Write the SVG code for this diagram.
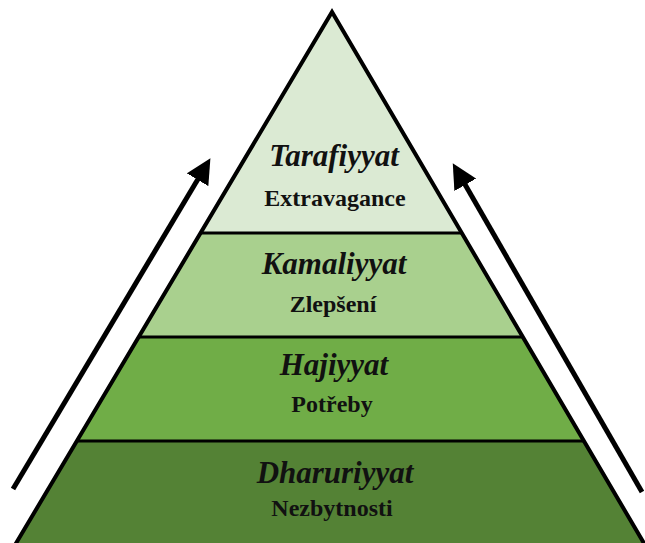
<svg xmlns="http://www.w3.org/2000/svg" width="645" height="543" viewBox="0 0 645 543">
<defs>
<style>
.t{font-family:"Liberation Serif","Times New Roman",serif;font-weight:bold;font-style:italic;font-size:31px;fill:#111;text-anchor:middle}
.s{font-family:"Liberation Serif","Times New Roman",serif;font-weight:bold;font-size:24px;fill:#111;text-anchor:middle}
.div{stroke:#000;stroke-width:3;fill:none}
.arr{stroke:#000;stroke-width:5;fill:none}
</style>
<marker id="ah" markerWidth="5" markerHeight="5" refX="2.5" refY="2.5" orient="auto" markerUnits="strokeWidth" viewBox="0 0 5 5">
<path d="M0,0 L5,2.5 L0,5 z" fill="#000"/>
</marker>
</defs>
<rect width="645" height="543" fill="#fff"/>
<g id="tier-tarafiyyat">
<polygon points="332,12 463,233 201,233" fill="#dbead3"/>
<text class="t" x="334" y="166">Tarafiyyat</text>
<text class="s" x="335" y="206">Extravagance</text>
</g>
<g id="tier-kamaliyyat">
<polygon points="201,233 463,233 524,337 139,337" fill="#a9d08e"/>
<text class="t" x="334" y="274">Kamaliyyat</text>
<text class="s" x="333" y="312">Zlepšení</text>
</g>
<g id="tier-hajiyyat">
<polygon points="139,337 524,337 585,441 77,441" fill="#70ad47"/>
<text class="t" x="334" y="375">Hajiyyat</text>
<text class="s" x="332" y="412">Potřeby</text>
</g>
<g id="tier-dharuriyyat">
<polygon points="77,441 585,441 645,543 15,543" fill="#548235"/>
<text class="t" x="335" y="483">Dharuriyyat</text>
<text class="s" x="332" y="516">Nezbytnosti</text>
</g>
<g id="connectors">
<line class="div" x1="201" y1="233" x2="463" y2="233"/>
<line class="div" x1="139" y1="337" x2="524" y2="337"/>
<line class="div" x1="77" y1="441" x2="585" y2="441"/>
<polyline points="15,545 332,12 645,545" stroke="#000" stroke-width="4" fill="none" stroke-linejoin="miter"/>
<line class="arr" x1="13" y1="489" x2="204" y2="169" marker-end="url(#ah)"/>
<line class="arr" x1="642" y1="492" x2="459" y2="174" marker-end="url(#ah)"/>
</g>
</svg>
